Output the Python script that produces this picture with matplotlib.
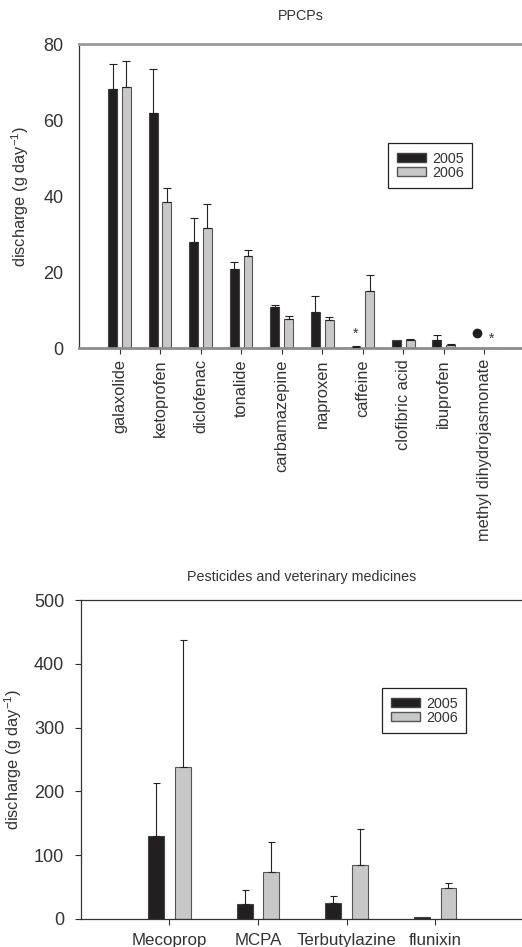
import numpy as np
import matplotlib.pyplot as plt
from matplotlib.patches import Patch

plt.rcParams['font.family'] = ['Liberation Sans', 'DejaVu Sans']
plt.rcParams['axes.unicode_minus'] = False
plt.rcParams['text.color'] = '#333333'
plt.rcParams['axes.labelcolor'] = '#333333'
plt.rcParams['xtick.color'] = '#333333'
plt.rcParams['ytick.color'] = '#333333'

# PPCPs discharge (g/day), mean and upper error
ppcp_names = ['galaxolide', 'ketoprofen', 'diclofenac', 'tonalide', 'carbamazepine',
              'naproxen', 'caffeine', 'clofibric acid', 'ibuprofen',
              'methyl dihydrojasmonate']
ppcp_2005 = [68.1, 61.9, 28.0, 20.7, 10.7, 9.5, 0.3, 2.2, 2.0, 0.0]
ppcp_2005_err = [6.7, 11.4, 6.2, 1.9, 0.6, 4.1, 0.2, 0.0, 1.4, 0.0]
ppcp_2006 = [68.8, 38.4, 31.6, 24.2, 7.6, 7.4, 15.1, 2.2, 0.7, 0.0]
ppcp_2006_err = [6.8, 3.8, 6.2, 1.7, 0.7, 0.7, 4.1, 0.3, 0.35, 0.0]

# markers drawn instead of bars: (category, series, value, symbol)
ppcp_marks = [(6, 0, 3.7, '*'), (9, 0, 3.9, 'o'), (9, 1, 2.4, '*')]

# pesticides and veterinary medicines
pest_names = ['Mecoprop', 'MCPA', 'Terbutylazine', 'flunixin']
pest_2005 = [130, 24, 25.6, 2.6]
pest_2005_err = [83, 21, 10.4, 0]
pest_2006 = [238, 73.6, 84.6, 48.5]
pest_2006_err = [200, 47, 56.4, 8.5]

black = '#231f20'
grey = '#c8c8c8'
ylab = r'discharge (g day$^{\mathregular{-1}}$)'

fig = plt.figure(figsize=(5.22, 9.47), dpi=100)


def bar_pair(ax, v05, e05, v06, e06, off, width):
    x = np.arange(len(v05))
    ax.bar(x - off, v05, width, color=black, edgecolor='#444444', lw=0.8, zorder=2)
    ax.bar(x + off, v06, width, color=grey, edgecolor='#555555', lw=0.8, zorder=2)
    for xs, vals, errs in [(x - off, v05, e05), (x + off, v06, e06)]:
        for xi, v, e in zip(xs, vals, errs):
            if e > 0:
                ax.errorbar(xi, v, yerr=[[0], [e]], fmt='none', ecolor='#222222',
                            elinewidth=0.8, capsize=width * 14, capthick=0.8, zorder=3)
    return x


def legend(ax, anchor):
    handles = [Patch(facecolor=black, edgecolor='#444444', label='2005'),
               Patch(facecolor=grey, edgecolor='#555555', label='2006')]
    leg = ax.legend(handles=handles, loc='upper left', bbox_to_anchor=anchor,
                    fontsize=10.3, fancybox=False, framealpha=1, edgecolor='#222222',
                    handlelength=2.05, handleheight=0.6, handletextpad=0.42,
                    labelspacing=0.0, borderpad=0.6, borderaxespad=0)
    leg.get_frame().set_linewidth(0.9)


# ---- PPCPs ----
ax1 = fig.add_axes([0.1513, 0.6325, 0.8487, 0.321])
x1 = bar_pair(ax1, ppcp_2005, ppcp_2005_err, ppcp_2006, ppcp_2006_err, 0.17, 0.22)
for cat, ser, val, sym in ppcp_marks:
    xm = cat + (-0.17 if ser == 0 else 0.17)
    if sym == 'o':
        ax1.plot(xm, val, 'o', color=black, ms=6, zorder=4)
    else:
        ax1.text(xm, val, '*', ha='center', va='center', fontsize=10, color='#333333')
ax1.set_xlim(-1, 9.93)
ax1.set_ylim(0, 80)
ax1.set_yticks([0, 20, 40, 60, 80])
ax1.set_xticks(x1)
ax1.set_xticklabels(ppcp_names, rotation=90, fontsize=11.8)
ax1.set_ylabel(ylab, fontsize=11.8, labelpad=9)
ax1.set_title('PPCPs', fontsize=10.3, pad=17)
ax1.tick_params(axis='y', labelsize=13, length=0, pad=11)
ax1.tick_params(axis='x', length=4, width=0.8, pad=4)
ax1.spines['right'].set_visible(False)
ax1.spines['top'].set_color('#999999')
ax1.spines['top'].set_linewidth(2)
ax1.spines['bottom'].set_color('#8c8c8c')
ax1.spines['bottom'].set_linewidth(2)
ax1.spines['left'].set_color('#333333')
ax1.spines['left'].set_linewidth(0.9)
legend(ax1, (0.698, 0.674))

# ---- Pesticides and veterinary medicines ----
ax2 = fig.add_axes([0.155, 0.0296, 0.845, 0.3368])
x2 = bar_pair(ax2, pest_2005, pest_2005_err, pest_2006, pest_2006_err, 0.15, 0.18)
ax2.set_xlim(-1, 3.98)
ax2.set_ylim(0, 500)
ax2.set_yticks([0, 100, 200, 300, 400, 500])
ax2.set_xticks(x2)
ax2.set_xticklabels(pest_names, fontsize=12.2)
ax2.set_ylabel(ylab, fontsize=11.8, labelpad=7)
ax2.set_title('Pesticides and veterinary medicines', fontsize=10.3, pad=14)
ax2.tick_params(axis='y', labelsize=13, length=4, width=0.8, pad=8)
ax2.tick_params(axis='x', length=4, width=0.8, pad=6)
ax2.spines['right'].set_visible(False)
for s in ['top', 'bottom', 'left']:
    ax2.spines[s].set_color('#333333')
    ax2.spines[s].set_linewidth(0.9)
legend(ax2, (0.683, 0.724))

fig.savefig('out.png', dpi=100)
